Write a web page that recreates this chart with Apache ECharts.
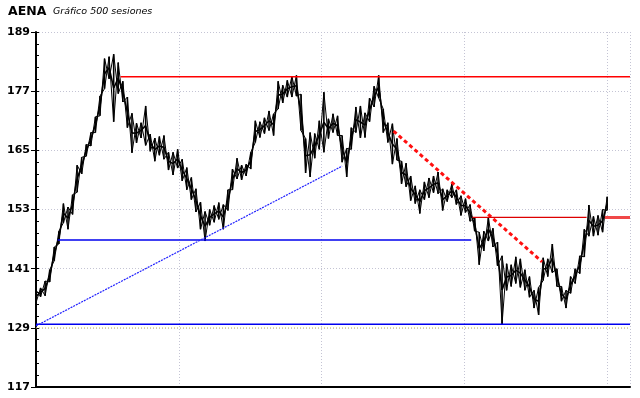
<!DOCTYPE html>
<html lang="es">
<head>
<meta charset="UTF-8" />
<title>AENA</title>
<script src="https://cdn.jsdelivr.net/npm/echarts@6/dist/echarts.min.js"></script>
<style>
  html, body { margin: 0; padding: 0; background: #fff; }
  #chart { width: 640px; height: 398px; }
</style>
</head>
<body>
<div id="chart"></div>
<script>
  // one bar every 4 sessions (500 sessions)
  var step = 4;
  var highs = [
    136.7, 137.1, 138.5, 140.8, 145.4, 148.6, 154.2, 153.5, 156.0, 162.0,
    163.6, 166.2, 168.6, 171.8, 176.0, 183.6, 184.0, 184.5, 182.8, 179.0,
    175.8, 172.5, 170.5, 170.6, 174.0, 168.3, 167.5, 167.8, 168.0, 164.6,
    164.6, 165.2, 163.2, 161.5, 159.5, 157.2, 154.5, 152.6, 153.0, 153.8,
    154.4, 154.0, 157.0, 161.2, 163.4, 162.0, 162.2, 164.6, 171.0, 170.8,
    171.6, 173.0, 172.4, 179.0, 178.2, 179.2, 180.0, 180.2, 176.4, 167.4,
    168.6, 168.4, 171.0, 176.8, 171.4, 172.4, 172.0, 168.0, 165.4, 169.6,
    173.8, 174.0, 172.6, 175.6, 178.0, 180.2, 173.4, 170.6, 170.4, 167.4,
    162.8, 162.4, 159.8, 157.8, 157.0, 158.6, 159.4, 159.8, 160.6, 157.2,
    157.0, 158.2, 157.0, 155.8, 155.2, 154.0, 151.4, 148.4, 148.6, 151.4,
    149.2, 146.4, 143.6, 142.0, 141.8, 143.4, 143.0, 140.8, 139.4, 136.6,
    137.2, 143.2, 143.0, 146.0, 141.0, 137.4, 136.6, 139.4, 141.0, 143.6,
    149.0, 153.9, 151.6, 151.8, 153.0, 155.6
  ];
  var lows = [
    134.1, 135.3, 135.5, 138.3, 142.6, 146.0, 150.3, 149.0, 152.0, 156.5,
    160.2, 163.8, 165.9, 168.6, 172.0, 177.5, 179.5, 170.8, 176.5, 174.8,
    169.6, 164.5, 166.5, 167.5, 166.0, 164.8, 162.8, 164.0, 163.2, 161.0,
    160.0, 161.4, 158.8, 157.0, 155.0, 152.5, 149.0, 146.6, 149.8, 150.4,
    151.0, 149.0, 152.8, 157.0, 159.2, 159.0, 159.8, 161.2, 166.6, 167.6,
    168.4, 169.0, 168.0, 173.4, 174.6, 175.8, 175.8, 176.0, 169.0, 160.4,
    159.6, 163.4, 165.2, 164.6, 167.4, 168.6, 168.0, 162.6, 159.6, 165.2,
    168.6, 167.5, 167.6, 170.8, 173.8, 175.6, 168.6, 166.6, 162.2, 163.0,
    158.2, 157.6, 154.8, 154.2, 152.2, 155.0, 155.4, 156.4, 156.2, 152.8,
    154.6, 155.4, 154.0, 151.8, 152.4, 150.6, 148.6, 141.8, 144.6, 146.6,
    145.4, 141.6, 129.8, 136.6, 137.4, 138.0, 137.2, 136.6, 135.2, 133.0,
    131.6, 138.6, 139.4, 140.2, 137.4, 134.4, 133.0, 136.0, 138.0, 140.0,
    143.4, 147.6, 147.6, 147.8, 148.4, 152.8
  ];
  var yTicks = [117, 129, 141, 153, 165, 177, 189];

  // drawn lines: [session, value] pairs
  var resistance = [[74, 179.9], [520, 179.9]];
  var support1 = [[19, 146.8], [381, 146.8]];
  var support2 = [[0, 129.75], [520, 129.75]];
  var trendUp = [[0, 129.4], [268, 161.8]];
  var trendDown = [[313, 168.9], [443, 142.4]];
  var neckline = [[382, 151.4], [482, 151.4]];
  var lastLevel = [[498, 151.4], [520, 151.4]];
  var grid129 = [[0, 129], [520, 129]];

  var bars = highs.map(function (h, i) {
    return [i * step, lows[i], h];
  });

  function ln(p, q, w) {
    return {
      type: 'line',
      shape: { x1: p[0], y1: p[1], x2: q[0], y2: q[1] },
      style: { stroke: '#000', lineWidth: w }
    };
  }

  // stick low-high, crossed to the next stick so the bars read as one dense band
  function renderBar(params, api) {
    var i = params.dataIndex;
    var lo = api.coord([api.value(0), api.value(1)]);
    var hi = api.coord([api.value(0), api.value(2)]);
    var kids = [ln(lo, hi, 1.6)];
    if (i + 1 < highs.length) {
      var nlo = api.coord([(i + 1) * step, lows[i + 1]]);
      var nhi = api.coord([(i + 1) * step, highs[i + 1]]);
      var a = api.coord([i * step, (lows[i] + highs[i]) / 2]);
      var b = api.coord([(i + 1) * step, (lows[i + 1] + highs[i + 1]) / 2]);
      kids.push(ln(hi, nlo, 1));
      kids.push(ln(lo, nhi, 1));
      kids.push(ln(a, b, 1.6));
    }
    return { type: 'group', children: kids };
  }

  function seg(data, color, width, type, z) {
    return {
      type: 'line',
      data: data,
      symbol: 'none',
      silent: true,
      animation: false,
      lineStyle: { color: color, width: width, type: type || 'solid' },
      z: z || 3
    };
  }

  var chart = echarts.init(document.getElementById('chart'));
  chart.setOption({
    animation: false,
    title: [
      {
        text: 'AENA',
        left: 8, top: 5, padding: 0,
        textStyle: { fontFamily: 'DejaVu Sans', fontWeight: 'bold', fontSize: 12.5, color: '#000' }
      },
      {
        text: 'Gráfico 500 sesiones',
        left: 53, top: 7, padding: 0,
        textStyle: { fontFamily: 'DejaVu Sans', fontStyle: 'italic', fontWeight: 'normal', fontSize: 9.5, color: '#000' }
      }
    ],
    grid: { left: 36, right: 10, top: 32, bottom: 11 },
    xAxis: {
      type: 'value',
      min: 0, max: 520, interval: 125,
      axisLine: { show: true, onZero: false, lineStyle: { color: '#000', width: 2 } },
      axisTick: { show: false },
      axisLabel: { show: false },
      splitLine: { show: true, lineStyle: { color: '#c4c4d4', type: [1, 2], width: 1 } }
    },
    yAxis: [
      {
        type: 'value',
        min: yTicks[0], max: yTicks[yTicks.length - 1], interval: 12,
        axisLine: { show: true, lineStyle: { color: '#000', width: 2 } },
        axisTick: { show: true, length: 5, lineStyle: { color: '#000' } },
        axisLabel: {
          margin: 6, color: '#000',
          fontFamily: 'DejaVu Sans', fontWeight: 'bold', fontSize: 11
        },
        splitLine: { show: true, lineStyle: { color: '#c4c4d4', type: [1, 2], width: 1 } }
      },
      {
        type: 'value',
        position: 'left',
        min: yTicks[0], max: yTicks[yTicks.length - 1], interval: 12,
        axisLine: { show: false },
        axisTick: { show: true, inside: true, length: 3, lineStyle: { color: '#000' } },
        minorTick: { show: true, splitNumber: 5, length: 3, lineStyle: { color: '#000' } },
        axisLabel: { show: false },
        splitLine: { show: false }
      }
    ],
    series: [
      seg(grid129, '#d8d070', 1, [1, 2], 1),
      {
        type: 'custom',
        renderItem: renderBar,
        data: bars,
        encode: { x: 0, y: [1, 2] },
        clip: true,
        z: 2
      },
      seg(resistance, '#ff0000', 1.5),
      seg(support1, '#0000ee', 1.5),
      seg(support2, '#0000ee', 1.5),
      seg(trendUp, '#2020ff', 1.2, [2, 1]),
      seg(trendDown, '#ff1010', 3, [4, 3]),
      seg(neckline, '#dd0000', 1.2),
      seg(lastLevel, '#f04848', 3)
    ]
  });
</script>
</body>
</html>
